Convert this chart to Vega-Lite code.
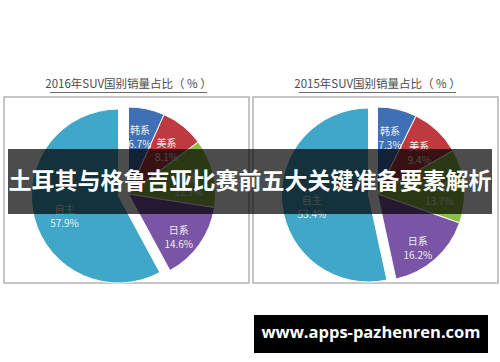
{
  "$schema": "https://vega.github.io/schema/vega-lite/v6.json",
  "width": 500,
  "height": 362,
  "padding": 0,
  "autosize": "none",
  "background": "white",
  "config": {"view": {"stroke": null}, "font": "Noto Sans CJK SC"},
  "datasets": {
    "pie": [
      {"year": "2016", "brand": "韩系", "pct": 6.7, "order": 1, "label": "韩系\n6.7%"},
      {"year": "2016", "brand": "美系", "pct": 8.1, "order": 2, "label": "美系\n8.1%"},
      {"year": "2016", "brand": "欧系", "pct": 12.7, "order": 3, "label": "欧系\n12.7%"},
      {"year": "2016", "brand": "日系", "pct": 14.6, "order": 4, "label": "日系\n14.6%"},
      {"year": "2016", "brand": "自主", "pct": 57.9, "order": 5, "label": "自主\n57.9%"},
      {"year": "2015", "brand": "韩系", "pct": 7.3, "order": 1, "label": "韩系\n7.3%"},
      {"year": "2015", "brand": "美系", "pct": 9.4, "order": 2, "label": "美系\n9.4%"},
      {"year": "2015", "brand": "欧系", "pct": 13.7, "order": 3, "label": "欧系\n13.7%"},
      {"year": "2015", "brand": "日系", "pct": 16.2, "order": 4, "label": "日系\n16.2%"},
      {"year": "2015", "brand": "自主", "pct": 53.4, "order": 5, "label": "自主\n53.4%"}
    ],
    "panels": [
      {"year": "2016", "title": "2016年SUV国别销量占比（ % ）"},
      {"year": "2015", "title": "2015年SUV国别销量占比（ % ）"}
    ]
  },
  "data": {"name": "pie"},
  "layer": [
    {
      "data": {"name": "panels"},
      "mark": {"type": "rect", "fill": "white", "stroke": "#b4b4b4", "strokeWidth": 1.5},
      "encoding": {
        "x": {"field": "year", "type": "nominal", "axis": null,
              "scale": {"type": "band", "domain": ["2016", "2015"], "range": [4, 498], "paddingInner": 0.016, "paddingOuter": 0}},
        "y": {"value": 97},
        "y2": {"value": 283}
      }
    },
    {
      "data": {"name": "panels"},
      "mark": {"type": "text", "fontSize": 11.5, "color": "#4a4a4a", "baseline": "middle", "dx": 2},
      "encoding": {
        "x": {"field": "year", "type": "nominal", "axis": null, "bandPosition": 0.5,
              "scale": {"type": "band", "domain": ["2016", "2015"], "range": [4, 498], "paddingInner": 0.016, "paddingOuter": 0}},
        "y": {"value": 85},
        "text": {"field": "title"}
      }
    },
    {
      "data": {"name": "panels"},
      "mark": {"type": "rect", "fill": "#6a6a6a", "width": 157, "xOffset": 2},
      "encoding": {
        "x": {"field": "year", "type": "nominal", "axis": null,
              "scale": {"type": "band", "domain": ["2016", "2015"], "range": [4, 498], "paddingInner": 0.016, "paddingOuter": 0}},
        "y": {"value": 92},
        "y2": {"value": 93}
      }
    },
    {
      "transform": [{"filter": "datum.year === '2016'"}],
      "encoding": {
        "x": {"field": "year", "type": "nominal", "axis": null, "bandPosition": 0.5,
              "scale": {"type": "band", "domain": ["2016", "2015"], "range": [4, 498], "paddingInner": 0.016, "paddingOuter": 0}},
        "y": {"value": 194},
        "theta": {"field": "pct", "type": "quantitative", "stack": true},
        "order": {"field": "order", "type": "quantitative"},
        "color": {"field": "brand", "type": "nominal", "legend": null,
                  "scale": {"domain": ["韩系", "美系", "欧系", "日系", "自主"], "range": ["#3f6fb6", "#be3a3f", "#8cc043", "#7a55a6", "#40a7c9"]}}
      },
      "layer": [
        {
          "mark": {"type": "arc", "outerRadius": 87, "stroke": "white", "strokeWidth": 1, "xOffset": 2},
          "encoding": {"opacity": {"condition": {"test": "datum.brand === '自主'", "value": 0}, "value": 1}}
        },
        {
          "mark": {"type": "arc", "outerRadius": 87, "stroke": "white", "strokeWidth": 1, "xOffset": -8, "yOffset": 2},
          "encoding": {"opacity": {"condition": {"test": "datum.brand === '自主'", "value": 1}, "value": 0}}
        },
        {
          "mark": {"type": "text", "radius": 64, "fontSize": 10, "lineBreak": "\n", "lineHeight": 14, "baseline": "middle"},
          "encoding": {"text": {"field": "label"}, "color": {"value": "#eeeeee"}}
        }
      ]
    },
    {
      "transform": [{"filter": "datum.year === '2015'"}],
      "encoding": {
        "x": {"field": "year", "type": "nominal", "axis": null, "bandPosition": 0.5,
              "scale": {"type": "band", "domain": ["2016", "2015"], "range": [4, 498], "paddingInner": 0.016, "paddingOuter": 0}},
        "y": {"value": 194},
        "theta": {"field": "pct", "type": "quantitative", "stack": true},
        "order": {"field": "order", "type": "quantitative"},
        "color": {"field": "brand", "type": "nominal", "legend": null,
                  "scale": {"domain": ["韩系", "美系", "欧系", "日系", "自主"], "range": ["#3f6fb6", "#be3a3f", "#8cc043", "#7a55a6", "#40a7c9"]}}
      },
      "layer": [
        {
          "mark": {"type": "arc", "outerRadius": 87, "stroke": "white", "strokeWidth": 1, "xOffset": 2},
          "encoding": {"opacity": {"condition": {"test": "datum.brand === '自主'", "value": 0}, "value": 1}}
        },
        {
          "mark": {"type": "arc", "outerRadius": 87, "stroke": "white", "strokeWidth": 1, "xOffset": -7, "yOffset": 1},
          "encoding": {"opacity": {"condition": {"test": "datum.brand === '自主'", "value": 1}, "value": 0}}
        },
        {
          "mark": {"type": "text", "radius": 64, "fontSize": 10, "lineBreak": "\n", "lineHeight": 14, "baseline": "middle"},
          "encoding": {"text": {"field": "label"}, "color": {"value": "#eeeeee"}}
        }
      ]
    },
    {
      "data": {"values": [{"caption": "土耳其与格鲁吉亚比赛前五大关键准备要素解析"}]},
      "mark": {"type": "rect", "fill": "#000000", "opacity": 0.7},
      "encoding": {"x": {"value": 8}, "x2": {"value": 492}, "y": {"value": 149}, "y2": {"value": 214}}
    },
    {
      "data": {"values": [{"caption": "土耳其与格鲁吉亚比赛前五大关键准备要素解析"}]},
      "mark": {"type": "text", "fontSize": 23, "fontWeight": "bold", "color": "white", "align": "center", "baseline": "middle", "font": "Noto Sans CJK SC"},
      "encoding": {"x": {"value": 250}, "y": {"value": 182}, "text": {"field": "caption"}}
    },
    {
      "data": {"values": [{"site": "www.apps-pazhenren.com"}]},
      "mark": {"type": "rect", "fill": "#000000"},
      "encoding": {"x": {"value": 254}, "x2": {"value": 488}, "y": {"value": 315}, "y2": {"value": 353}}
    },
    {
      "data": {"values": [{"site": "www.apps-pazhenren.com"}]},
      "mark": {"type": "text", "fontSize": 16.5, "fontWeight": "bold", "color": "white", "align": "center", "baseline": "middle", "font": "Open Sans"},
      "encoding": {"x": {"value": 371}, "y": {"value": 333}, "text": {"field": "site"}}
    }
  ]
}
